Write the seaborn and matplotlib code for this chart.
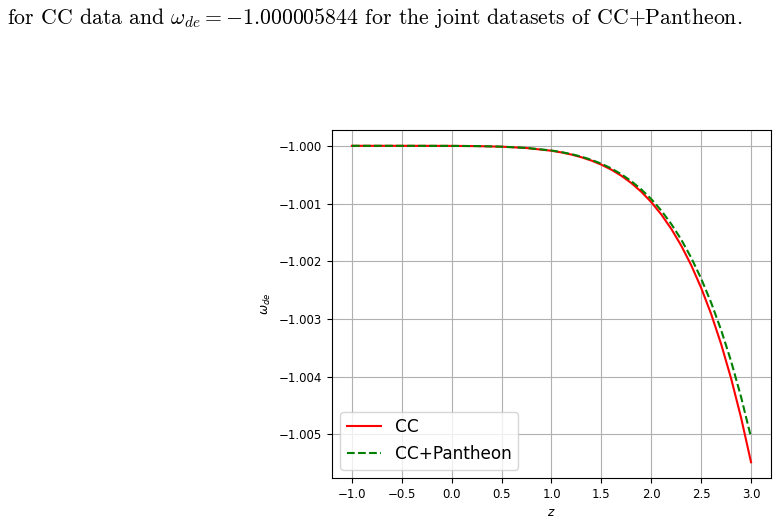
import numpy as np
import pandas as pd
import matplotlib
matplotlib.use("Agg")
import matplotlib.pyplot as plt
import seaborn as sns

# Data
z_values = [-1.0, -0.5, 0.0, 0.25, 0.5, 0.75, 1.0, 1.1, 1.2, 1.3, 1.4, 1.5,
            1.6, 1.7, 1.8, 1.9, 2.0, 2.1, 2.2, 2.3, 2.4, 2.5, 2.6, 2.7, 2.8,
            2.9, 3.0]
w_cc = [-1.0, -1.0, -1.0000013, -1.0000051, -1.0000152, -1.0000384,
        -1.0000856, -1.0001148, -1.0001517, -1.0001981, -1.0002557,
        -1.0003267, -1.0004133, -1.0005184, -1.0006448, -1.0007959,
        -1.0009754, -1.001188, -1.001437, -1.001728, -1.002067, -1.002460,
        -1.002913, -1.003433, -1.004029, -1.004708, -1.005481]
w_ccp = [-1.0, -1.0, -1.0000012, -1.0000049, -1.0000145, -1.0000365,
         -1.0000815, -1.000109, -1.000144, -1.000188, -1.000243, -1.000310,
         -1.000392, -1.000492, -1.000612, -1.000755, -1.000922, -1.001121,
         -1.001353, -1.001623, -1.001937, -1.002300, -1.002716, -1.003190,
         -1.003730, -1.004350, -1.005050]
series_labels = ["CC", "CC+Pantheon"]
x_ticks = [-1.0, -0.5, 0.0, 0.5, 1.0, 1.5, 2.0, 2.5, 3.0]
y_ticks = [-1.000, -1.001, -1.002, -1.003, -1.004, -1.005]
header_text = (r"for CC data and $\omega_{de} = -1.000005844$ for the joint "
               r"datasets of CC+Pantheon.")

df_cc = pd.DataFrame({"z": z_values, "w": w_cc})
df_ccp = pd.DataFrame({"z": z_values, "w": w_ccp})

fig = plt.figure(figsize=(7.78, 5.21), dpi=100)
ax = fig.add_axes([0.4267, 0.0825, 0.991 - 0.4267, 0.7505 - 0.0825])

sns.lineplot(data=df_cc, x="z", y="w", ax=ax, color="red", linewidth=1.5,
             label=series_labels[0], estimator=None, sort=True)
sns.lineplot(data=df_ccp, x="z", y="w", ax=ax, color="green", linewidth=1.5,
             linestyle="--", label=series_labels[1], estimator=None, sort=True)

ax.grid(True, color="#b0b0b0", linewidth=0.8)
ax.set_xticks(x_ticks)
ax.set_yticks(y_ticks)
ax.yaxis.set_major_formatter(plt.FuncFormatter(lambda v, p: f"{v:.3f}".replace("-", "\u2212")))
ax.xaxis.set_major_formatter(plt.FuncFormatter(lambda v, p: f"{v:.1f}".replace("-", "\u2212")))
ax.tick_params(labelsize=8.5)
ax.set_xlabel(r"$z$", fontsize=8.7)
ax.set_ylabel(r"$\omega_{de}$", fontsize=8.7)
ax.set_xlim(-1.2, 3.2)
ax.set_ylim(-1.005754, -0.999726)
ax.legend(loc="lower left", fontsize=12.2)

fig.text(0.009, 0.965, header_text, fontsize=15.7, family="cmr10",
         math_fontfamily="cm", ha="left", va="center")

fig.savefig("out.png", dpi=100)
